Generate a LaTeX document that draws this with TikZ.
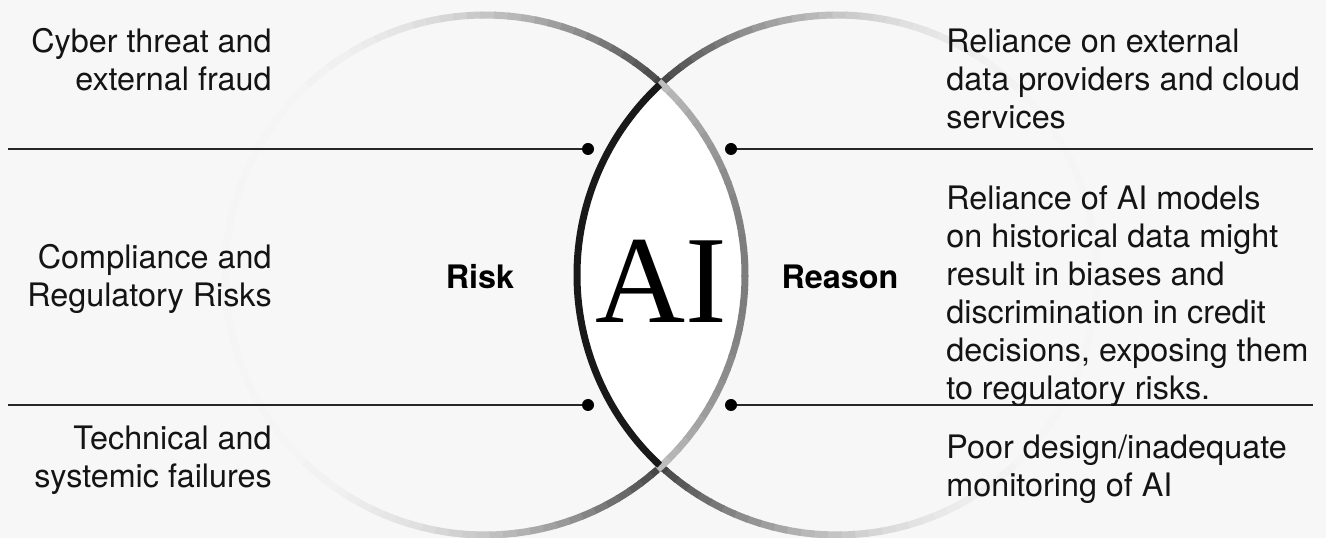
\documentclass[tikz,border=0pt]{standalone}
\usepackage{fontspec}
\setmainfont{TeX Gyre Heros}
\newfontfamily\aiserif{Liberation Serif}

\tikzset{
  itemtext/.style={font=\fontsize{18.4}{21.6}\selectfont, inner sep=0pt, text=black!92},
  sidelabel/.style={font=\fontsize{18.4}{21}\selectfont\bfseries, inner sep=0pt},
  rule/.style={line width=0.8pt, black!85},
  knot/.style={circle, fill=black, inner sep=0pt, minimum size=2.4mm},
  ringline/.style={line width=1.4mm},
}

\begin{document}
\begin{tikzpicture}[x=0.2mm, y=-0.2mm]
    % 1 unit = 1px of the 1326x538 sheet, y counted downwards
    \fill[gray!6] (0,0) rectangle (1326,538);
    \useasboundingbox (0,0) rectangle (1326,538);
    \coordinate (lc) at (485,275);
    \coordinate (rc) at (837,275);
    % white lens where the rings overlap
    \begin{scope}
      \clip (lc) circle (260);
      \fill[white] (rc) circle (260);
    \end{scope}
    % outer parts of the rings, fading away from the lens
    \foreach \a in {47,50,...,311} {
      \pgfmathtruncatemacro\f{4+70*((1+cos(\a+1.5))*260/437)^2.5}
      \draw[ringline, black!\f] (lc) ++(\a:260) arc[start angle=\a, end angle=\a+3.4, radius=260];
    }
    \foreach \a in {-133,-130,...,131} {
      \pgfmathtruncatemacro\f{4+70*((1-cos(\a+1.5))*260/437)^2.5}
      \draw[ringline, black!\f] (rc) ++(\a:260) arc[start angle=\a, end angle=\a+3.4, radius=260];
    }
    % lens borders: grey on the right, black on the left
    \foreach \a in {-48,-45,...,45} {
      \pgfmathtruncatemacro\f{26+26*cos((\a+1.5)*1.9)}
      \draw[ringline, black!\f] (lc) ++(\a:260) arc[start angle=\a, end angle=\a+3.4, radius=260];
    }
    \draw[ringline, black!90] (rc) ++(133:260) arc[start angle=133, end angle=227, radius=260];

    % dividers with their end dots
    \node[knot] (dotLT) at (588,149) {};
    \node[knot] (dotLB) at (588,405) {};
    \node[knot] (dotRT) at (731,149) {};
    \node[knot] (dotRB) at (731,405) {};
    \coordinate (endLT) at (8,149);
    \coordinate (endLB) at (8,405);
    \coordinate (endRT) at (1313,149);
    \coordinate (endRB) at (1313,405);
    \draw[rule] (endLT) -- (dotLT);
    \draw[rule] (endLB) -- (dotLB);
    \draw[rule] (dotRT) -- (endRT);
    \draw[rule] (dotRB) -- (endRB);

    % risks (left) and reasons (right)
    \node[itemtext, align=right, anchor=east] (cyber) at (272,60) {Cyber threat and\\external fraud};
    \node[itemtext, align=right, anchor=east] (compliance) at (272,279) {Compliance and\\Regulatory Risks};
    \node[itemtext, align=right, anchor=east] (technical) at (272,460) {Technical and\\systemic failures};
    \node[itemtext, align=left, anchor=west] (cloud) at (946,79) {Reliance on external\\data providers and cloud\\services};
    \node[itemtext, align=left, anchor=west] (history) at (946,296) {Reliance of AI models\\on historical data might\\result in biases and\\discrimination in credit\\decisions, exposing them\\to regulatory risks.};
    \node[itemtext, align=left, anchor=west] (design) at (946,469) {Poor design/inadequate\\monitoring of AI};

    \node[sidelabel] (risk) at (480,277) {Risk};
    \node[sidelabel] (reason) at (840,277) {Reason};
    \node[font=\aiserif\fontsize{71}{71}\selectfont, inner sep=0pt, anchor=base] (ai) at (661,323) {AI};
\end{tikzpicture}
\end{document}
